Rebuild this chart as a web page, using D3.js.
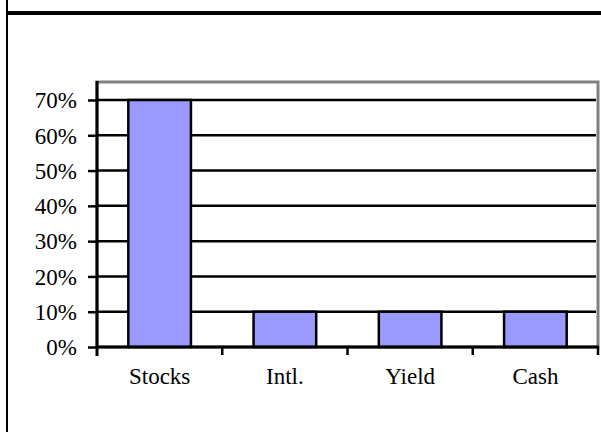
<!DOCTYPE html>
<html><head><meta charset="utf-8">
<script src="https://cdn.jsdelivr.net/npm/d3@7"></script>
<style>html,body{margin:0;padding:0;background:#fff;}svg{display:block;}</style>
</head><body>
<script>
const categories = ["Stocks", "Intl.", "Yield", "Cash"];
const values = [0.70, 0.10, 0.10, 0.10];
const yTicks = [0, 0.1, 0.2, 0.3, 0.4, 0.5, 0.6, 0.7];

(function () {
const W = 601, H = 432;
const FONT = "'Liberation Serif', 'Times New Roman', Times, serif";
const svg = d3.select("body").append("svg").attr("width", W).attr("height", H);

const pLeft = 97, pRight = 598, pTop = 82, pBottom = 347;
const x = d3.scaleBand().domain(categories).range([pLeft, pRight]).paddingInner(0.5).paddingOuter(0.25);
const y = d3.scaleLinear().domain([0, 0.7]).range([pBottom, 100]);

svg.append("line").attr("x1", 7).attr("x2", 7).attr("y1", 0).attr("y2", H).attr("stroke", "#000").attr("stroke-width", 2);
svg.append("line").attr("x1", 7).attr("x2", W).attr("y1", 13).attr("y2", 13).attr("stroke", "#000").attr("stroke-width", 4);

svg.append("rect").attr("x", pLeft).attr("y", pTop).attr("width", pRight - pLeft).attr("height", pBottom - pTop)
  .attr("fill", "#fff").attr("stroke", "#808080").attr("stroke-width", 3);

svg.append("g").selectAll("line").data(yTicks.filter(d => d > 0)).join("line")
  .attr("x1", pLeft).attr("x2", pRight - 2)
  .attr("y1", d => y(d)).attr("y2", d => y(d))
  .attr("stroke", "#000").attr("stroke-width", 2.5);

svg.append("g").selectAll("rect").data(values).join("rect")
  .attr("x", (d, i) => x(categories[i]))
  .attr("width", x.bandwidth())
  .attr("y", d => y(d))
  .attr("height", d => y(0) - y(d))
  .attr("fill", "#9999ff").attr("stroke", "#000").attr("stroke-width", 2.5);

const yAxis = d3.axisLeft(y).tickValues(yTicks).tickFormat(d3.format(".0%")).tickSizeInner(9).tickSizeOuter(0).tickPadding(11);
const gy = svg.append("g").attr("transform", `translate(${pLeft},0)`).call(yAxis);
gy.attr("font-family", FONT).attr("font-size", 23);
gy.select(".domain").remove();
gy.selectAll(".tick line").attr("stroke", "#000").attr("stroke-width", 2.5);
gy.selectAll("text").attr("fill", "#000").attr("dy", "0.34em");
svg.append("line").attr("x1", pLeft).attr("x2", pLeft).attr("y1", pTop - 1).attr("y2", pBottom + 9).attr("stroke", "#000").attr("stroke-width", 3);

svg.append("line").attr("x1", pLeft).attr("x2", pRight + 1).attr("y1", pBottom).attr("y2", pBottom).attr("stroke", "#000").attr("stroke-width", 3);

const step = x.step();
const bounds = categories.map((c, i) => x(c) - x.bandwidth() * 0.5 + step).slice(0, 3);
bounds.push(pRight);
svg.append("g").selectAll("line").data(bounds).join("line")
  .attr("x1", d => d).attr("x2", d => d).attr("y1", pBottom).attr("y2", pBottom + 8)
  .attr("stroke", "#000").attr("stroke-width", 2.5);

svg.append("g").attr("font-family", FONT).attr("font-size", 23).selectAll("text").data(categories).join("text")
  .attr("x", d => x(d) + x.bandwidth() / 2).attr("y", 384)
  .attr("text-anchor", "middle")
  .text(d => d);
})();
</script>
</body></html>
